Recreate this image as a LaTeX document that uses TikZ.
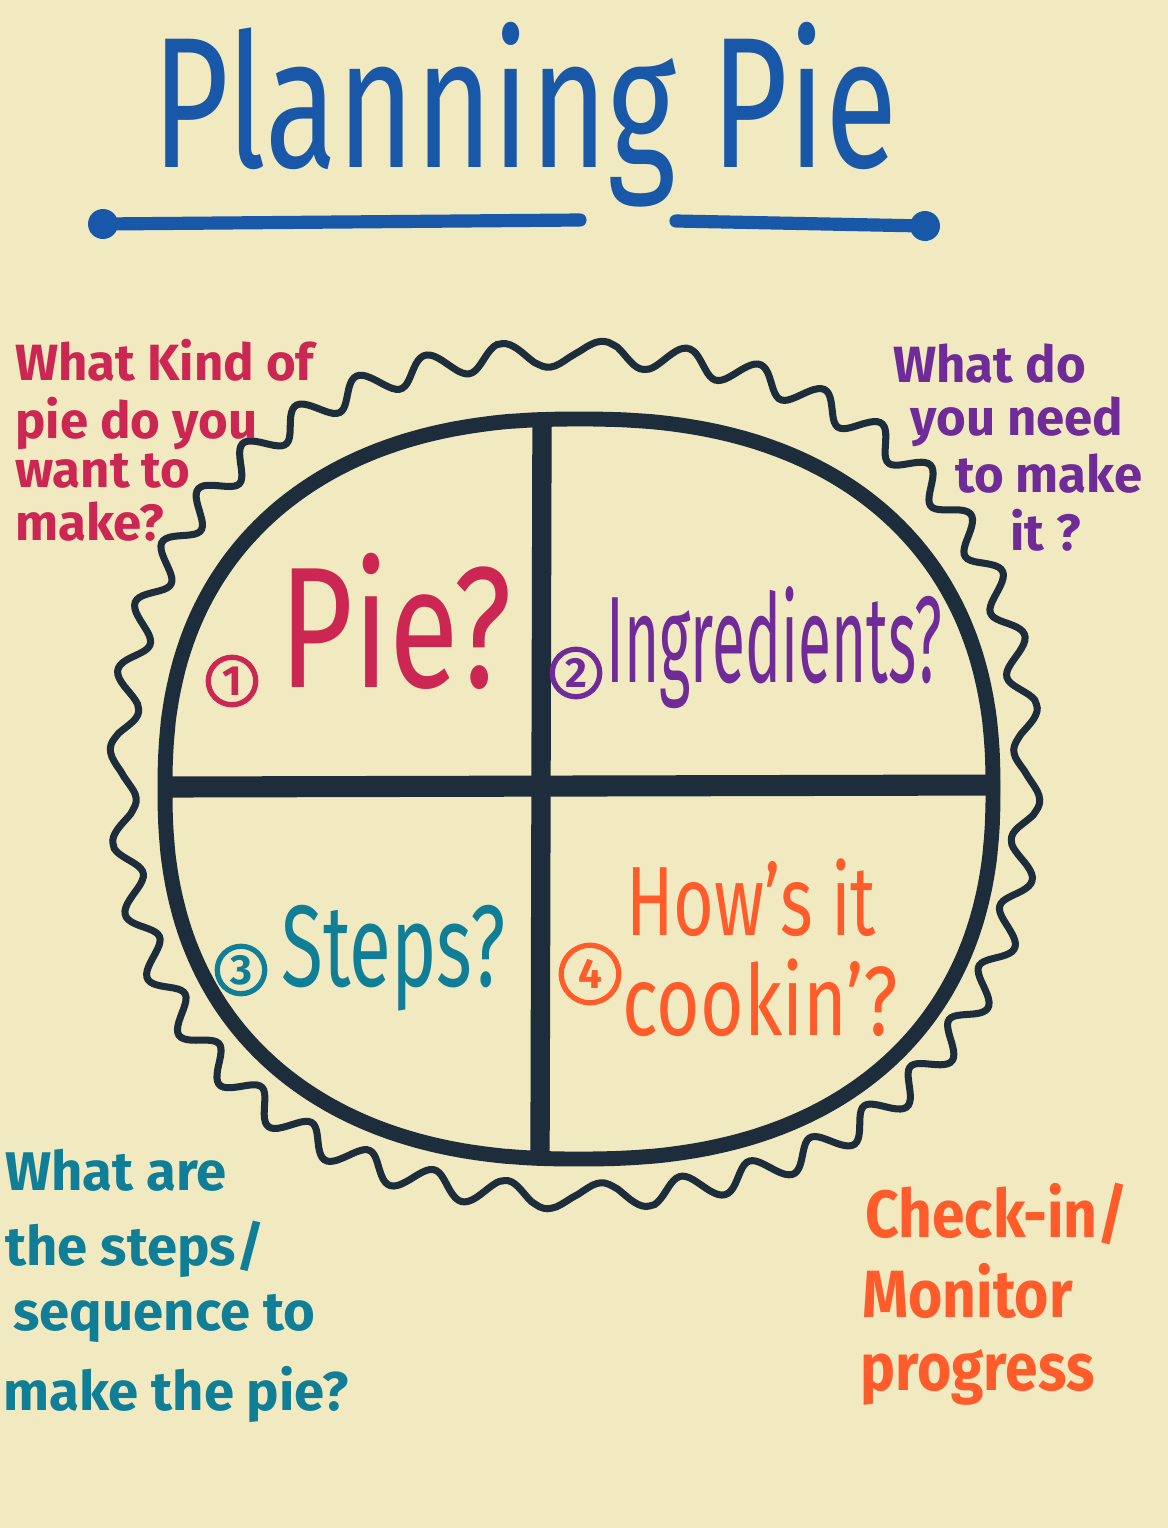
\documentclass[tikz,border=0pt]{standalone}
\usepackage{fontspec}
\setmainfont{Fira Sans}
\usepackage{graphicx}
\definecolor{paper}{HTML}{F1EAC0}
\definecolor{TitleBlue}{HTML}{1957A8}
\definecolor{Navy}{HTML}{1E2D3B}
\definecolor{Crimson}{HTML}{CC2653}
\definecolor{Grape}{HTML}{6F2B98}
\definecolor{Teal}{HTML}{107E97}
\definecolor{Tangerine}{HTML}{FF5B2B}
\newcommand{\hand}[3]{{\fontsize{#1}{#1}\selectfont\scalebox{#2}[1]{#3}}}
\tikzset{
  word/.style={inner sep=0pt, anchor=base west, text=#1},
  note/.style={inner sep=0pt, anchor=base west, text=#1, font=\bfseries\fontsize{29}{29}\selectfont},
  ring/.style={circle, draw=#1, text=#1, line width=3pt, minimum size=0.95cm, inner sep=0pt, font=\bfseries\fontsize{24}{24}\selectfont},
}

\begin{document}
\begin{tikzpicture}[x=0.02cm, y=-0.02cm]
\fill[paper] (0,0) rectangle (1168,1528); % the sheet
\useasboundingbox (0,0) rectangle (1168,1528);
\node[word=TitleBlue] (title) at (152,167) {\hand{106}{0.71}{Planning Pie}}; % heading
\coordinate (ulL) at (103,224); % underline, left dot
\coordinate (ulA) at (580,220); % underline, before the g
\coordinate (ulB) at (676,221); % underline, after the g
\coordinate (ulR) at (925,226); % underline, right dot
\draw[TitleBlue, line width=7.5pt, line cap=round] (ulL) -- (ulA) (ulB) -- (ulR);
\fill[TitleBlue] (ulL) circle (15) (ulR) circle (15);
\draw[Navy, line width=4pt] plot[domain=0.1:360.1, samples=900, variable=\t]
  ({575+(452+13*sin(40*\t))*sign(cos(\t))*abs(cos(\t))^0.87},
   {775+(421+13*sin(40*\t))*sign(sin(\t))*abs(sin(\t))^0.87}) -- cycle; % wavy crust
\coordinate (pie) at (579,789); % centre of the pie
\draw[Navy, line width=8.5pt] plot[domain=0.25:360.25, samples=400, variable=\t]
  ({579+414*sign(cos(\t))*abs(cos(\t))^0.86}, {789+370*sign(sin(\t))*abs(sin(\t))^0.86}) -- cycle; % pie rim
\coordinate (cutT) at (542,420); % top of the vertical cut
\coordinate (cutB) at (540,1160); % bottom of the vertical cut
\coordinate (cutL) at (172,787); % left of the horizontal cut
\coordinate (cutR) at (1000,785); % right of the horizontal cut
\draw[Navy, line width=11pt] (cutT) -- (cutB);
\draw[Navy, line width=12pt] (cutL) -- (cutR);
% slice 1
\node[ring=Crimson] (n1) at (232,681) {1};
\node[word=Crimson] (q1) at (279,687) {\hand{98}{0.74}{Pie?}};
% slice 2
\node[ring=Grape] (n2) at (576,673) {2};
\node[word=Grape] (q2) at (606,682) {\hand{70}{0.49}{Ingredients?}};
% slice 3
\node[ring=Teal] (n3) at (241,970) {3};
\node[word=Teal] (q3) at (281,986) {\hand{66}{0.66}{Steps?}};
% slice 4
\node[word=Tangerine] (q4a) at (626,935) {\hand{56}{0.71}{How's it}};
\node[ring=Tangerine, minimum size=1.15cm] (n4) at (590,974) {4};
\node[word=Tangerine] (q4b) at (622,1035) {\hand{56}{0.76}{cookin'?}};
% questions round the pie
\node[note=Crimson] (tl1) at (15,380) {What Kind of};
\node[note=Crimson] (tl2) at (15,438) {pie do you};
\node[note=Crimson] (tl3) at (15,487) {want to};
\node[note=Crimson] (tl4) at (15,540) {make?};
\node[note=Grape] (tr1) at (893,382) {What do};
\node[note=Grape] (tr2) at (910,435) {you need};
\node[note=Grape] (tr3) at (955,492) {to make};
\node[note=Grape] (tr4) at (1010,550) {it ?};
\node[note=Teal, font=\bfseries\fontsize{31}{31}\selectfont] (bl1) at (5,1190) {What are};
\node[note=Teal, font=\bfseries\fontsize{31}{31}\selectfont] (bl2) at (5,1265) {the steps/};
\node[note=Teal, font=\bfseries\fontsize{31}{31}\selectfont] (bl3) at (13,1330) {sequence to};
\node[note=Teal, font=\bfseries\fontsize{31}{31}\selectfont] (bl4) at (3,1410) {make the pie?};
\node[note=Tangerine] (br1) at (865,1237) {\hand{38}{0.88}{Check-in/}};
\node[note=Tangerine] (br2) at (862,1317) {\hand{38}{0.88}{Monitor}};
\node[note=Tangerine] (br3) at (860,1390) {\hand{38}{0.88}{progress}};
\end{tikzpicture}
\end{document}
